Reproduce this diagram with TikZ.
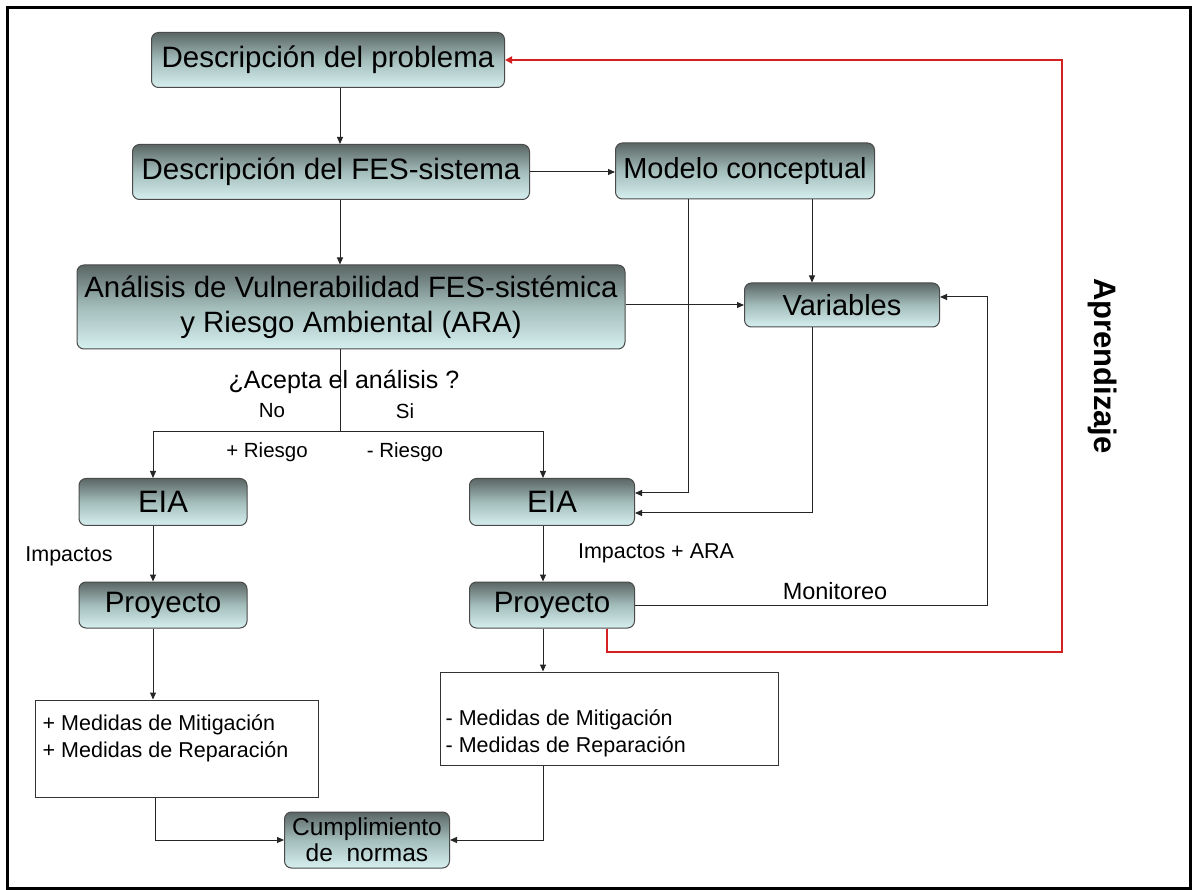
\documentclass[tikz,border=0pt]{standalone}
\usepackage{fontspec}
\setmainfont{Liberation Sans}
\usetikzlibrary{arrows.meta,calc}
\definecolor{boxtop}{HTML}{5A6664}
\definecolor{boxmid}{HTML}{A3BDBB}
\definecolor{boxbot}{HTML}{D6EFEF}
\definecolor{boxline}{HTML}{4A4A4A}
\definecolor{learnred}{HTML}{D42020}
\tikzset{
  gbox/.style={draw=boxline, line width=1pt, rounded corners=7pt,
    top color=boxtop, bottom color=boxbot, middle color=boxmid,
    inner sep=0pt, align=center, text=black},
  wbox/.style={draw=black!80, line width=1pt, fill=white, inner sep=0pt},
  arr/.style={draw=black!85, line width=1pt, -{Triangle[length=7pt,width=6pt]}},
  ln/.style={draw=black!85, line width=1pt},
  redarr/.style={draw=learnred, line width=2.6pt, -{Triangle[length=7pt,width=7pt]}},
  lbl/.style={inner sep=0pt, text=black}
}
\begin{document}
\begin{tikzpicture}[x=1pt,y=-1pt]
\useasboundingbox (0,0) rectangle (1195,890);
\fill[white] (0,0) rectangle (1195,890);
\draw[line width=3pt] (7,8) rectangle (1190,888);

% boxes
\node[gbox, minimum width=353, minimum height=55, font=\fontsize{29.5}{33}\selectfont] (prob) at (328,60) {Descripción del problema};
\node[gbox, minimum width=397, minimum height=55, font=\fontsize{29.5}{33}\selectfont] (fes) at (331,172) {Descripción del FES-sistema};
\node[gbox, minimum width=259, minimum height=56, font=\fontsize{29}{33}\selectfont] (model) at (745,171) {Modelo conceptual};
\node[gbox, minimum width=548, minimum height=84, font=\fontsize{29.4}{35}\selectfont] (ana) at (351,307) {Análisis de Vulnerabilidad FES-sistémica\\y Riesgo Ambiental (ARA)};
\node[gbox, minimum width=195, minimum height=44, font=\fontsize{29}{33}\selectfont] (var) at (842,305) {Variables};
\node[gbox, minimum width=168, minimum height=47, font=\fontsize{31}{33}\selectfont] (eiaL) at (163,502) {EIA};
\node[gbox, minimum width=168, minimum height=46, font=\fontsize{29.5}{33}\selectfont] (proyL) at (163,605) {Proyecto};
\node[gbox, minimum width=165, minimum height=47, font=\fontsize{31}{33}\selectfont] (eiaR) at (552,502) {EIA};
\node[gbox, minimum width=165, minimum height=46, font=\fontsize{29.5}{33}\selectfont] (proyR) at (552,605) {Proyecto};
\node[wbox, minimum width=283, minimum height=97] (medL) at (176.5,748.5) {};
\node[lbl, anchor=north west, align=left, font=\fontsize{21.5}{26.5}\selectfont] (medLt) at ($(medL.north west)+(8,15)$) {+ Medidas de Mitigación\\+ Medidas de Reparación};
\node[wbox, minimum width=338, minimum height=93] (medR) at (609,718.5) {};
\node[lbl, anchor=north west, align=left, font=\fontsize{21.5}{26.5}\selectfont] (medRt) at ($(medR.north west)+(6,38)$) {- Medidas de Mitigación\\- Medidas de Reparación};
\node[gbox, minimum width=165, minimum height=56, font=\fontsize{24.5}{26}\selectfont] (cumpl) at (367,840) {Cumplimiento\\de\ \ normas};

% helper coordinates
\coordinate (x340) at (340,0);
\coordinate (x688) at (688,0);
\coordinate (x812) at (812,0);
\coordinate (brM) at (340,432);
\coordinate (brL) at (153,432);
\coordinate (brR) at (543,432);
\coordinate (x155) at (155,0);
\coordinate (x607) at (607,0);
\coordinate (mon) at (987,297);
\coordinate (rb) at (1062,652);
\coordinate (eR1) at (688,493);
\coordinate (eR2) at (812,513);

% connectors
\draw[arr] (prob.south -| x340) -- (fes.north -| x340);
\draw[arr] (fes.east) -- (model.west |- fes.east);
\draw[arr] (fes.south -| x340) -- (ana.north -| x340);
\draw[arr] (ana.east |- var.west) -- (var.west);
\draw[arr] (model.south -| x812) -- (var.north -| x812);
\draw[arr] (model.south -| x688) -- (eR1) -- (eiaR.east |- eR1);
\draw[arr] (var.south -| x812) -- (eR2) -- (eiaR.east |- eR2);
\draw[ln] (ana.south -| brM) -- (brM);
\draw[arr] (brM) -| (eiaL.north -| brL);
\draw[arr] (brM) -| (eiaR.north -| brR);
\draw[arr] (eiaL.south -| brL) -- (proyL.north -| brL);
\draw[arr] (proyL.south -| brL) -- (medL.north -| brL);
\draw[arr] (eiaR.south -| brR) -- (proyR.north -| brR);
\draw[arr] (proyR.south -| brR) -- (medR.north -| brR);
\draw[arr] (medL.south -| x155) |- (cumpl.west);
\draw[arr] (medR.south -| brR) |- (cumpl.east);
\draw[arr] (proyR.east) -| (mon) -- (var.east |- mon);
\draw[redarr] (proyR.south -| x607) |- (rb) |- (prob.east);

% labels
\node[lbl, font=\fontsize{25}{28}\selectfont] (q) at (344,382) {¿Acepta\ el análisis ?};
\node[lbl, font=\fontsize{20.5}{24}\selectfont] (no) at (272,411) {No};
\node[lbl, font=\fontsize{20.5}{24}\selectfont] (si) at (405,411) {Si};
\node[lbl, font=\fontsize{20.5}{24}\selectfont] (mr) at (267,452) {+ Riesgo};
\node[lbl, font=\fontsize{20.5}{24}\selectfont] (lr) at (405,452) {- Riesgo};
\node[lbl, font=\fontsize{21.5}{24}\selectfont] (imp) at (69,556) {Impactos};
\node[lbl, font=\fontsize{21.5}{24}\selectfont] (impara) at (656,553) {Impactos + ARA};
\node[lbl, font=\fontsize{23.5}{26}\selectfont] (moni) at (835,591) {Monitoreo};
\node[lbl, font=\bfseries\fontsize{31}{34}\selectfont, rotate=-90] (apr) at (1103,366) {Aprendizaje};
\end{tikzpicture}
\end{document}
